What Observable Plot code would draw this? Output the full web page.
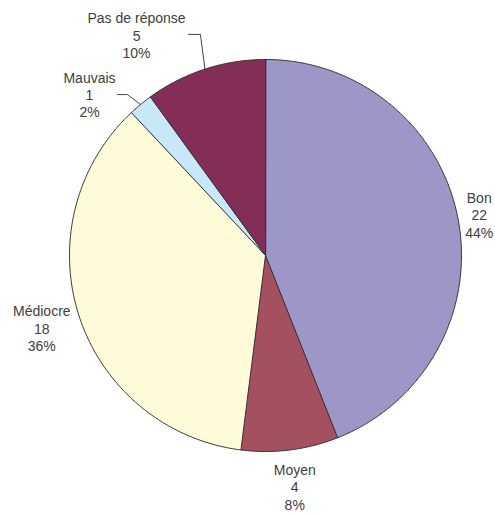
<!DOCTYPE html>
<html><head><meta charset="utf-8">
<script src="https://cdn.jsdelivr.net/npm/d3@7"></script>
<script src="https://cdn.jsdelivr.net/npm/@observablehq/plot@0.6"></script>
<style>body{margin:0;background:#fff;} #chart svg{display:block;}</style>
</head><body><div id="chart"></div>
<script>
const categories = ["Bon", "Moyen", "Médiocre", "Mauvais", "Pas de réponse"];
const counts = [22, 4, 18, 1, 5];
const colors = ["#9d97c8", "#a4505f", "#fffad8", "#c6e8f8", "#842d57"];

// layout (label placement in unit-circle coordinates)
const labelRadius = [1.11, 1.19, 1.20, null, null];
const leaderLayout = {
  3: {elbow: [-0.704, 0.821], endX: -0.755, label: [-0.898, 0.821]},
  4: {elbow: [-0.332, 1.128], endX: -0.393, label: [-0.658, 1.125]}
};

const total = d3.sum(counts);
let acc = 0;
const slices = categories.map((name, i) => {
  const a0 = acc / total * 2 * Math.PI;
  acc += counts[i];
  const a1 = acc / total * 2 * Math.PI;
  return {name, value: counts[i], a0, a1, mid: (a0 + a1) / 2, pct: Math.round(counts[i] / total * 100) + "%"};
});

// polygon vertices for each slice (angle measured clockwise from 12 o'clock)
const polyPts = [];
for (const s of slices) {
  polyPts.push({name: s.name, x: 0, y: 0});
  const n = Math.max(2, Math.ceil((s.a1 - s.a0) / (Math.PI / 360)));
  for (let k = 0; k <= n; k++) {
    const a = s.a0 + (s.a1 - s.a0) * k / n;
    polyPts.push({name: s.name, x: Math.sin(a), y: Math.cos(a)});
  }
}

const labels = slices.map((s, i) => {
  let x, y;
  if (leaderLayout[i]) { [x, y] = leaderLayout[i].label; }
  else { x = labelRadius[i] * Math.sin(s.mid); y = labelRadius[i] * Math.cos(s.mid); }
  return {x, y, text: `${s.name}\n${s.value}\n${s.pct}`};
});

const leaderPts = [];
for (const [i, L] of Object.entries(leaderLayout)) {
  const s = slices[i];
  leaderPts.push({id: i, x: Math.sin(s.mid), y: Math.cos(s.mid)});
  leaderPts.push({id: i, x: L.elbow[0], y: L.elbow[1]});
  leaderPts.push({id: i, x: L.endX, y: L.elbow[1]});
}

const chart = Plot.plot({
  width: 495,
  height: 516,
  marginLeft: 69,
  marginRight: 34,
  marginTop: 59,
  marginBottom: 65,
  x: {domain: [-1, 1], axis: null},
  y: {domain: [-1, 1], axis: null},
  color: {domain: categories, range: colors},
  style: {fontFamily: "'Liberation Sans', Arial, sans-serif", fontSize: "14px", background: "#fff"},
  marks: [
    Plot.line(polyPts, {x: "x", y: "y", z: "name", fill: "name", stroke: "#333", strokeWidth: 1, curve: "linear-closed", strokeLinejoin: "round"}),
    Plot.line(leaderPts, {x: "x", y: "y", z: "id", stroke: "#444", strokeWidth: 1}),
    Plot.text(labels, {x: "x", y: "y", text: "text", fill: "#404040", fontSize: 14, lineHeight: 1.24, textAnchor: "middle"})
  ]
});
document.getElementById("chart").appendChild(chart);
</script>
</body></html>
